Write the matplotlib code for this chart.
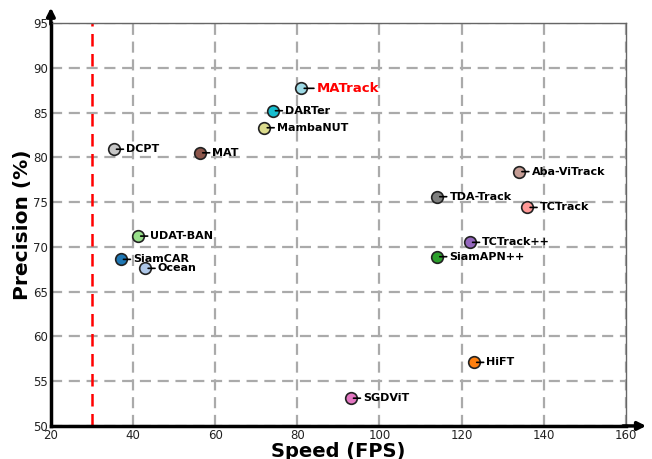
import numpy as np
import matplotlib.pyplot as plt

# tracker results: speed (FPS) vs precision (%)
names = ["MATrack", "DARTer", "MambaNUT", "DCPT", "MAT", "Aba-ViTrack", "TDA-Track",
         "TCTrack", "UDAT-BAN", "TCTrack++", "SiamAPN++", "SiamCAR", "Ocean", "HiFT", "SGDViT"]
fps = [81, 74, 72, 35.3, 56.3, 134, 114, 136, 41.2, 122, 114, 37, 43, 123, 93]
prec = [87.7, 85.2, 83.3, 80.9, 80.5, 78.4, 75.6, 74.4, 71.2, 70.5, 68.9, 68.6, 67.6, 57.1, 53.1]
colors = ["#9edae5", "#17becf", "#dbdb8d", "#c7c7c7", "#8c564b", "#c49c94", "#7f7f7f",
          "#ff9896", "#98df8a", "#9467bd", "#2ca02c", "#1f77b4", "#aec7e8", "#ff7f0e", "#e377c2"]

fig = plt.figure(figsize=(6.52, 4.59), dpi=100)
ax = fig.add_axes([0.078, 0.072, 0.882, 0.878])

ax.grid(True, linestyle=(0, (5, 3)), color="#aaaaaa", linewidth=1.6)
ax.set_axisbelow(True)
ax.axvline(30, color="red", linestyle=(0, (5, 3)), linewidth=1.8)

for i in range(len(names)):
    ax.scatter(fps[i], prec[i], s=70, color=colors[i], edgecolor="#222222", linewidth=1.2, zorder=3)
    if names[i] == "MATrack":
        ax.annotate(names[i], xy=(fps[i], prec[i]), xytext=(11, 0), textcoords="offset points",
                    va="center", ha="left", fontsize=9.5, fontweight="bold", color="red",
                    arrowprops=dict(arrowstyle="-", color="black", lw=1.2, shrinkA=0, shrinkB=2))
    else:
        ax.annotate(names[i], xy=(fps[i], prec[i]), xytext=(9, 0), textcoords="offset points",
                    va="center", ha="left", fontsize=8, fontweight="bold", color="black",
                    arrowprops=dict(arrowstyle="-", color="black", lw=1.2, shrinkA=0, shrinkB=2))

ax.set_xlim(20, 160)
ax.set_ylim(50, 95)
ax.set_xticks(np.arange(20, 161, 20))
ax.set_yticks(np.arange(50, 96, 5))
ax.tick_params(labelsize=8.5, length=0, pad=2, labelcolor="#222222")

for s in ["top", "right"]:
    ax.spines[s].set_color("#666666")
    ax.spines[s].set_linewidth(1.0)
for s in ["left", "bottom"]:
    ax.spines[s].set_color("black")
    ax.spines[s].set_linewidth(2.5)

# arrow heads on the axes
ax.annotate("", xy=(0, 1.045), xytext=(0, 0.99), xycoords="axes fraction",
            arrowprops=dict(arrowstyle="-|>", color="black", lw=2.5, mutation_scale=12))
ax.annotate("", xy=(1.04, 0), xytext=(0.99, 0), xycoords="axes fraction",
            arrowprops=dict(arrowstyle="-|>", color="black", lw=2.5, mutation_scale=12))

ax.set_xlabel("Speed (FPS)", fontsize=14, fontweight="bold", labelpad=0)
ax.set_ylabel("Precision (%)", fontsize=14.5, fontweight="bold", labelpad=1)

plt.savefig("out.png", dpi=100)
